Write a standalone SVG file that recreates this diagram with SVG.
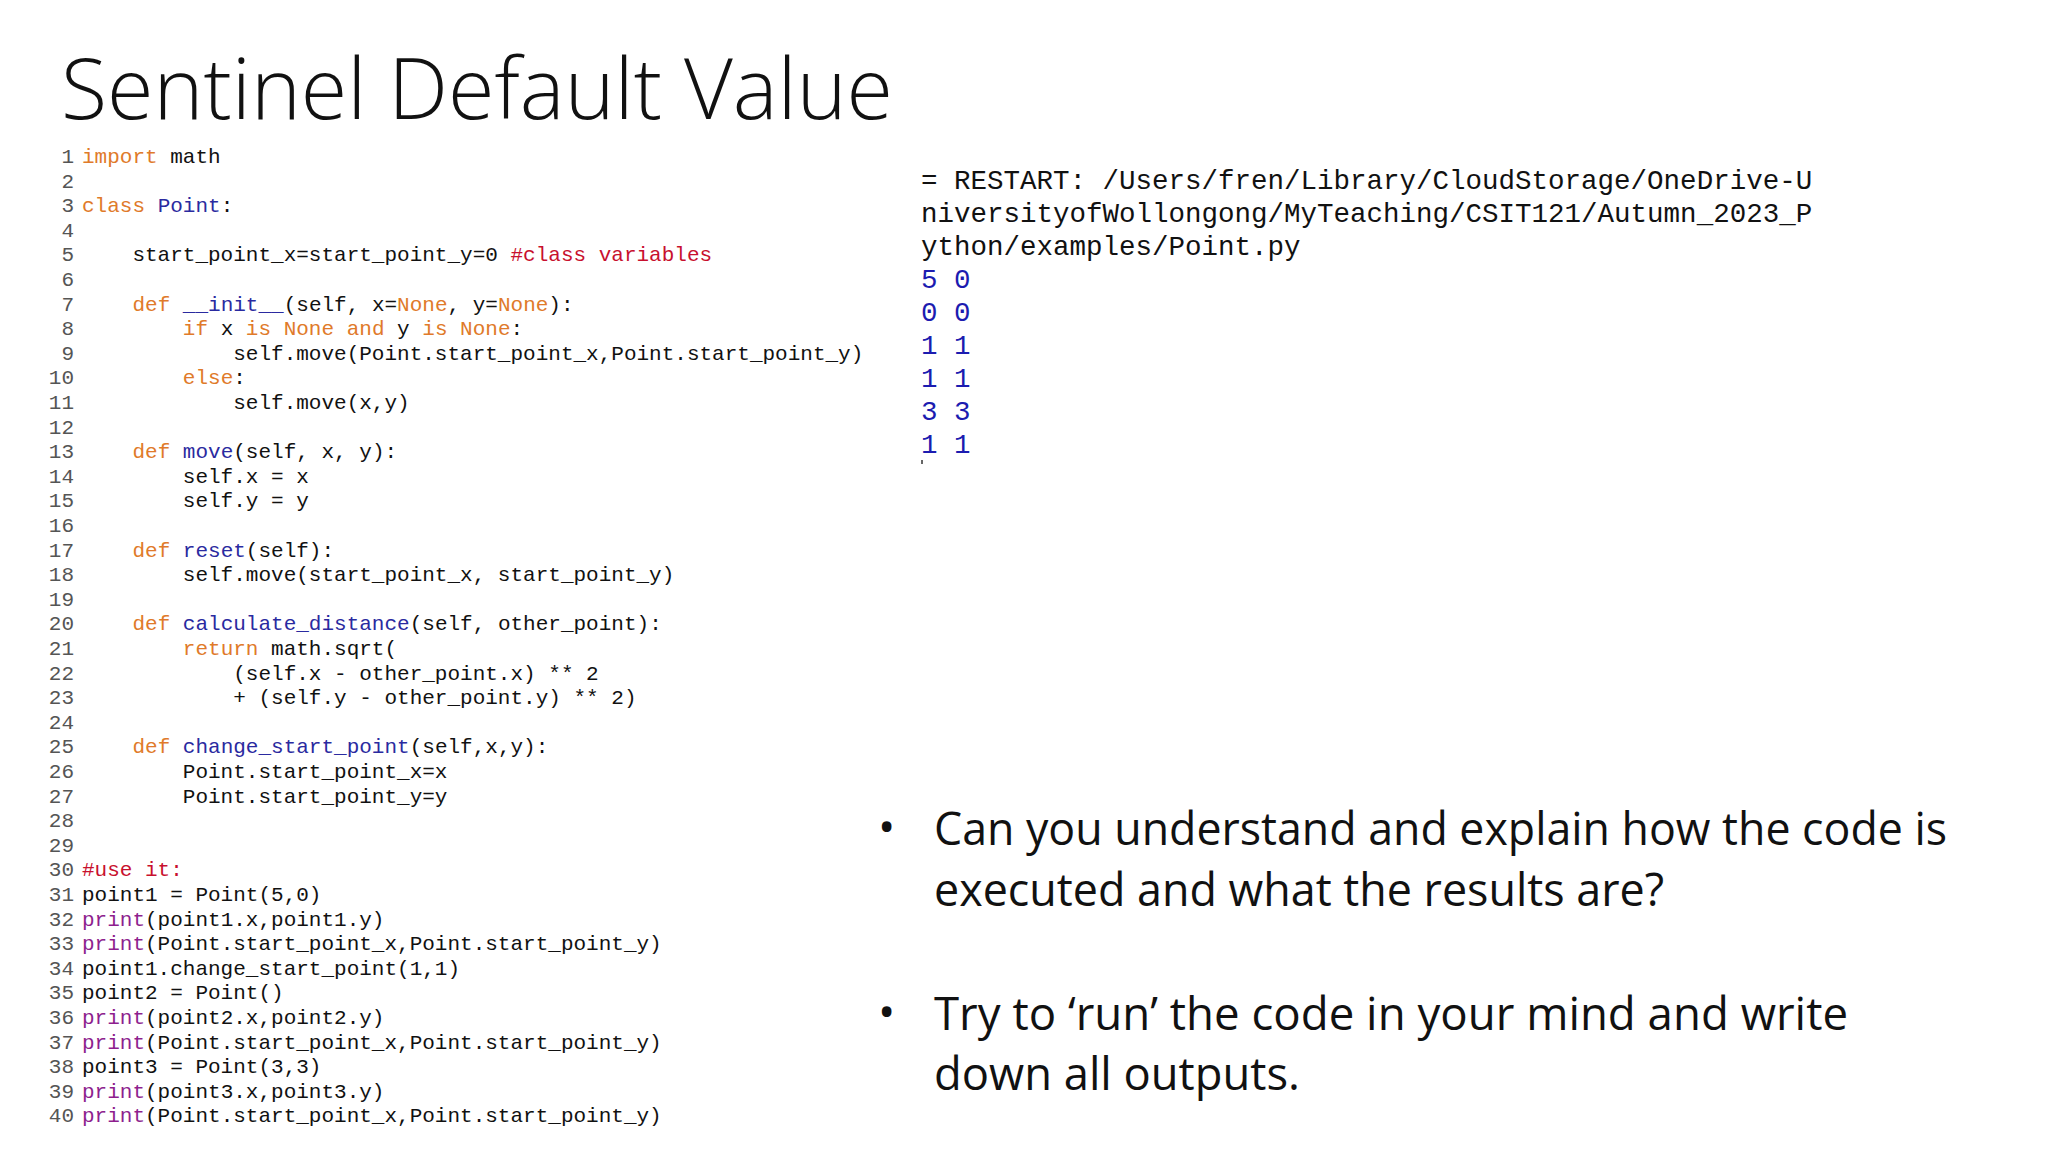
<svg xmlns="http://www.w3.org/2000/svg" width="2048" height="1152" viewBox="0 0 2048 1152">
<style>
.c{font-family:"Liberation Mono",monospace;font-size:21px;fill:#111;white-space:pre}
.n{font-family:"Liberation Mono",monospace;font-size:21px;fill:#555;text-anchor:end}
.k{fill:#e07a2a}.f{fill:#2a2aa0}.r{fill:#c8102e}.p{fill:#8e1f8e}
.o{font-family:"Liberation Mono",monospace;font-size:27.5px;fill:#111}
.ob{font-family:"Liberation Mono",monospace;font-size:27.5px;fill:#1c1cb0}
.b{font-family:"Open Sans","Liberation Sans",sans-serif;font-size:46px;fill:#111}
</style>
<rect width="2048" height="1152" fill="#fff"/>
<g id="title"><text x="61" y="119" font-family="Open Sans, Liberation Sans, sans-serif" font-weight="300" font-size="84" fill="#111" textLength="832" lengthAdjust="spacingAndGlyphs">Sentinel Default Value</text></g>
<g id="linenums">
<text class="n" x="74" y="163">1</text><text class="n" x="74" y="188">2</text><text class="n" x="74" y="212">3</text><text class="n" x="74" y="237">4</text><text class="n" x="74" y="261">5</text><text class="n" x="74" y="286">6</text><text class="n" x="74" y="311">7</text><text class="n" x="74" y="335">8</text><text class="n" x="74" y="360">9</text><text class="n" x="74" y="384">10</text><text class="n" x="74" y="409">11</text><text class="n" x="74" y="434">12</text><text class="n" x="74" y="458">13</text><text class="n" x="74" y="483">14</text><text class="n" x="74" y="507">15</text><text class="n" x="74" y="532">16</text><text class="n" x="74" y="557">17</text><text class="n" x="74" y="581">18</text><text class="n" x="74" y="606">19</text><text class="n" x="74" y="630">20</text><text class="n" x="74" y="655">21</text><text class="n" x="74" y="680">22</text><text class="n" x="74" y="704">23</text><text class="n" x="74" y="729">24</text><text class="n" x="74" y="753">25</text><text class="n" x="74" y="778">26</text><text class="n" x="74" y="803">27</text><text class="n" x="74" y="827">28</text><text class="n" x="74" y="852">29</text><text class="n" x="74" y="876">30</text><text class="n" x="74" y="901">31</text><text class="n" x="74" y="926">32</text><text class="n" x="74" y="950">33</text><text class="n" x="74" y="975">34</text><text class="n" x="74" y="999">35</text><text class="n" x="74" y="1024">36</text><text class="n" x="74" y="1049">37</text><text class="n" x="74" y="1073">38</text><text class="n" x="74" y="1098">39</text><text class="n" x="74" y="1122">40</text>
</g>
<g id="code">
<text class="c" x="82" y="163"><tspan class="k">import</tspan> math</text>
<text class="c" x="82" y="212"><tspan class="k">class</tspan> <tspan class="f">Point</tspan>:</text>
<text class="c" x="82" y="261">    start_point_x=start_point_y=0 <tspan class="r">#class variables</tspan></text>
<text class="c" x="82" y="311">    <tspan class="k">def</tspan> <tspan class="f">__init__</tspan>(self, x=<tspan class="k">None</tspan>, y=<tspan class="k">None</tspan>):</text>
<text class="c" x="82" y="335">        <tspan class="k">if</tspan> x <tspan class="k">is None and</tspan> y <tspan class="k">is None</tspan>:</text>
<text class="c" x="82" y="360">            self.move(Point.start_point_x,Point.start_point_y)</text>
<text class="c" x="82" y="384">        <tspan class="k">else</tspan>:</text>
<text class="c" x="82" y="409">            self.move(x,y)</text>
<text class="c" x="82" y="458">    <tspan class="k">def</tspan> <tspan class="f">move</tspan>(self, x, y):</text>
<text class="c" x="82" y="483">        self.x = x</text>
<text class="c" x="82" y="507">        self.y = y</text>
<text class="c" x="82" y="557">    <tspan class="k">def</tspan> <tspan class="f">reset</tspan>(self):</text>
<text class="c" x="82" y="581">        self.move(start_point_x, start_point_y)</text>
<text class="c" x="82" y="630">    <tspan class="k">def</tspan> <tspan class="f">calculate_distance</tspan>(self, other_point):</text>
<text class="c" x="82" y="655">        <tspan class="k">return</tspan> math.sqrt(</text>
<text class="c" x="82" y="680">            (self.x - other_point.x) ** 2</text>
<text class="c" x="82" y="704">            + (self.y - other_point.y) ** 2)</text>
<text class="c" x="82" y="753">    <tspan class="k">def</tspan> <tspan class="f">change_start_point</tspan>(self,x,y):</text>
<text class="c" x="82" y="778">        Point.start_point_x=x</text>
<text class="c" x="82" y="803">        Point.start_point_y=y</text>
<text class="c" x="82" y="876"><tspan class="r">#use it:</tspan></text>
<text class="c" x="82" y="901">point1 = Point(5,0)</text>
<text class="c" x="82" y="926"><tspan class="p">print</tspan>(point1.x,point1.y)</text>
<text class="c" x="82" y="950"><tspan class="p">print</tspan>(Point.start_point_x,Point.start_point_y)</text>
<text class="c" x="82" y="975">point1.change_start_point(1,1)</text>
<text class="c" x="82" y="999">point2 = Point()</text>
<text class="c" x="82" y="1024"><tspan class="p">print</tspan>(point2.x,point2.y)</text>
<text class="c" x="82" y="1049"><tspan class="p">print</tspan>(Point.start_point_x,Point.start_point_y)</text>
<text class="c" x="82" y="1073">point3 = Point(3,3)</text>
<text class="c" x="82" y="1098"><tspan class="p">print</tspan>(point3.x,point3.y)</text>
<text class="c" x="82" y="1122"><tspan class="p">print</tspan>(Point.start_point_x,Point.start_point_y)</text>
</g>
<g id="output">
<text class="o" x="921" y="189">= RESTART: /Users/fren/Library/CloudStorage/OneDrive-U</text>
<text class="o" x="921" y="222">niversityofWollongong/MyTeaching/CSIT121/Autumn_2023_P</text>
<text class="o" x="921" y="255">ython/examples/Point.py</text>
<text class="ob" x="921" y="288">5 0</text>
<text class="ob" x="921" y="321">0 0</text>
<text class="ob" x="921" y="354">1 1</text>
<text class="ob" x="921" y="387">1 1</text>
<text class="ob" x="921" y="420">3 3</text>
<text class="ob" x="921" y="453">1 1</text>
<line x1="922" y1="460" x2="922" y2="464" stroke="#333" stroke-width="1.5"/>
</g>
<g id="bullets">
<text class="b" x="878" y="843">•</text>
<text class="b" x="934" y="845" textLength="1013" lengthAdjust="spacingAndGlyphs">Can you understand and explain how the code is</text>
<text class="b" x="934" y="906" textLength="730" lengthAdjust="spacingAndGlyphs">executed and what the results are?</text>
<text class="b" x="878" y="1028">•</text>
<text class="b" x="934" y="1030" textLength="914" lengthAdjust="spacingAndGlyphs">Try to ‘run’ the code in your mind and write</text>
<text class="b" x="934" y="1090" textLength="366" lengthAdjust="spacingAndGlyphs">down all outputs.</text>
</g>
</svg>
